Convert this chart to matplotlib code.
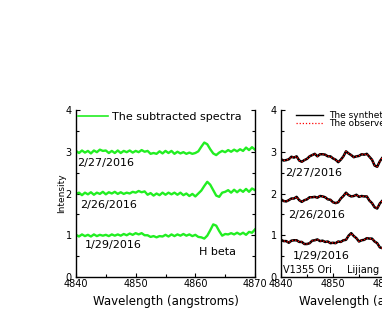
import matplotlib
matplotlib.use("Agg")
import matplotlib.pyplot as plt
from matplotlib.ticker import MultipleLocator

plt.rcParams['font.family'] = ['DejaVu Sans']

# ---------------- data ----------------
# Left panel: subtracted spectra, 0.5 A steps from 4840 to 4870
wl_left = [4840.0 + 0.5 * i for i in range(61)]
sub_0227 = [3.02, 2.97, 3.03, 2.98, 3.02, 2.96, 3.03, 2.99, 3.05, 3.02,
            3.03, 2.97, 3.02, 2.97, 3.03, 2.97, 3.02, 2.99, 3.03, 2.98,
            3.02, 2.99, 3.04, 3.00, 3.02, 2.95, 2.97, 2.95, 3.01, 2.96,
            3.02, 2.97, 3.02, 2.95, 3.00, 2.96, 2.99, 2.95, 2.98, 2.95,
            2.97, 3.01, 3.12, 3.22, 3.18, 3.06, 2.96, 2.92, 2.98, 3.02,
            2.99, 3.04, 3.00, 3.05, 3.01, 3.06, 3.02, 3.10, 3.04, 3.11,
            3.05]
sub_0226 = [1.99, 2.02, 1.96, 2.02, 1.98, 2.03, 1.97, 2.02, 1.99, 2.04,
            1.98, 2.03, 2.00, 2.04, 1.99, 2.03, 1.99, 2.02, 2.00, 2.04,
            2.02, 2.06, 2.03, 2.05, 1.97, 2.01, 1.95, 2.00, 1.96, 2.02,
            1.97, 2.02, 1.98, 2.02, 1.97, 2.02, 1.96, 2.00, 1.94, 1.99,
            1.93, 2.00, 2.07, 2.18, 2.28, 2.21, 2.08, 1.95, 1.92, 2.02,
            2.04, 2.08, 2.02, 2.09, 2.03, 2.09, 2.04, 2.11, 2.04, 2.12,
            2.08]
sub_0129 = [1.01, 0.97, 1.02, 0.98, 1.01, 0.97, 1.02, 0.98, 1.01, 0.99,
            1.01, 0.98, 1.02, 0.99, 1.02, 0.99, 1.03, 1.00, 1.04, 1.01,
            1.05, 1.02, 1.05, 1.00, 1.00, 0.96, 0.98, 0.95, 0.98, 0.97,
            1.01, 0.97, 1.02, 0.98, 1.02, 0.99, 1.03, 0.99, 1.02, 0.98,
            1.01, 0.96, 0.95, 0.92, 0.99, 1.12, 1.26, 1.23, 1.10, 0.99,
            1.03, 1.02, 1.05, 1.02, 1.06, 1.02, 1.06, 1.01, 1.08, 1.06,
            1.14]

# Right panel: synthetic / observed spectra, 0.5 A steps from 4840 to 4860
wl_right = [4840.0 + 0.5 * i for i in range(41)]
syn_0227 = [2.82, 2.79, 2.80, 2.82, 2.88, 2.86, 2.89, 2.79, 2.76, 2.80,
            2.83, 2.89, 2.92, 2.95, 2.89, 2.94, 2.94, 2.93, 2.89, 2.89,
            2.84, 2.81, 2.75, 2.81, 2.89, 3.01, 2.96, 2.92, 2.87, 2.89,
            2.90, 2.94, 2.93, 2.95, 2.88, 2.81, 2.67, 2.64, 2.77, 2.86,
            2.88]
syn_0226 = [1.86, 1.82, 1.81, 1.84, 1.88, 1.88, 1.92, 1.84, 1.80, 1.84,
            1.86, 1.91, 1.91, 1.92, 1.90, 1.94, 1.93, 1.91, 1.86, 1.85,
            1.79, 1.77, 1.79, 1.88, 1.94, 2.02, 1.96, 1.93, 1.94, 1.97,
            1.92, 1.94, 1.93, 1.93, 1.83, 1.77, 1.67, 1.64, 1.76, 1.83,
            1.86]
syn_0129 = [0.89, 0.86, 0.86, 0.82, 0.87, 0.88, 0.88, 0.84, 0.84, 0.79,
            0.79, 0.81, 0.87, 0.88, 0.90, 0.86, 0.87, 0.84, 0.85, 0.81,
            0.82, 0.81, 0.85, 0.84, 0.88, 0.89, 0.99, 1.05, 0.98, 0.93,
            0.85, 0.88, 0.89, 0.93, 0.92, 0.92, 0.85, 0.81, 0.71, 0.69,
            0.74]
obs_0227 = syn_0227
obs_0226 = syn_0226
obs_0129 = syn_0129

dates = ["2/27/2016", "2/26/2016", "1/29/2016"]

# ---------------- figure ----------------
W, H = 382, 311
fig = plt.figure(figsize=(W / 100, H / 100), dpi=100)
ax1 = fig.add_axes([76 / W, 34 / H, 179 / W, 167 / H])
ax2 = fig.add_axes([281 / W, 34 / H, 182 / W, 167 / H])

green = '#22ee22'
for ys in (sub_0227, sub_0226, sub_0129):
    ax1.plot(wl_left, ys, color=green, lw=1.7)
ax1.plot([], [], color=green, lw=1.2, label="The subtracted spectra")

for syn, obs in ((syn_0227, obs_0227), (syn_0226, obs_0226), (syn_0129, obs_0129)):
    ax2.plot(wl_right, syn, color='black', lw=1.8)
    ax2.plot(wl_right, obs, color='red', lw=0.9, ls=(0, (1, 1.5)))
ax2.plot([], [], color='black', lw=1.0, label="The synthetic spectra")
ax2.plot([], [], color='red', lw=0.9, ls=(0, (1, 1.5)), label="The observed spectra")

ax1.set_xlim(4840, 4870)
ax2.set_xlim(4840, 4875)
for ax in (ax1, ax2):
    ax.set_ylim(0, 4)
    ax.spines['top'].set_visible(False)
    for s in ('left', 'right', 'bottom'):
        ax.spines[s].set_linewidth(1.0)
    ax.xaxis.set_major_locator(MultipleLocator(10))
    ax.xaxis.set_minor_locator(MultipleLocator(5))
    ax.yaxis.set_major_locator(MultipleLocator(1))
    ax.yaxis.set_minor_locator(MultipleLocator(0.5))
    ax.tick_params(which='both', direction='in', left=True, right=True,
                   top=False, bottom=True, width=0.8)
    ax.tick_params(which='major', length=3)
    ax.tick_params(which='minor', length=2)
    ax.tick_params(axis='x', labelsize=7, pad=1.5)
    ax.tick_params(axis='y', labelsize=7, pad=3)
    ax.set_xlabel("Wavelength (angstroms)", fontsize=8.5, labelpad=4)

ax1.set_ylabel("Intensity", fontsize=6.5)
ax1.yaxis.set_label_coords(-0.055, 0.5)

ax1.legend(loc='upper left', bbox_to_anchor=(0, 1.0), frameon=False,
           fontsize=8, handlelength=2.7, handletextpad=0.35,
           borderaxespad=0, borderpad=0.15)
ax2.legend(loc='upper left', bbox_to_anchor=(0.08, 1.0), frameon=False,
           fontsize=6.5, handlelength=2.9, handletextpad=0.7,
           borderaxespad=0, borderpad=0.1, labelspacing=-0.05)

left_pos = [(4840.2, 2.73), (4840.7, 1.72), (4841.5, 0.77)]
for (x, y), d in zip(left_pos, dates):
    ax1.text(x, y, d, fontsize=8, ha='left', va='center')
ax1.text(4860.6, 0.60, "H beta", fontsize=8, ha='left', va='center')

right_pos = [(4840.8, 2.49), (4841.3, 1.49), (4842.3, 0.50)]
for (x, y), d in zip(right_pos, dates):
    ax2.text(x, y, d, fontsize=8, ha='left', va='center')
ax2.text(4840.4, 0.17, "V1355 Ori", fontsize=7, ha='left', va='center')
ax2.text(4852.7, 0.17, "Lijiang", fontsize=7, ha='left', va='center')

fig.savefig("out.png", dpi=100)
